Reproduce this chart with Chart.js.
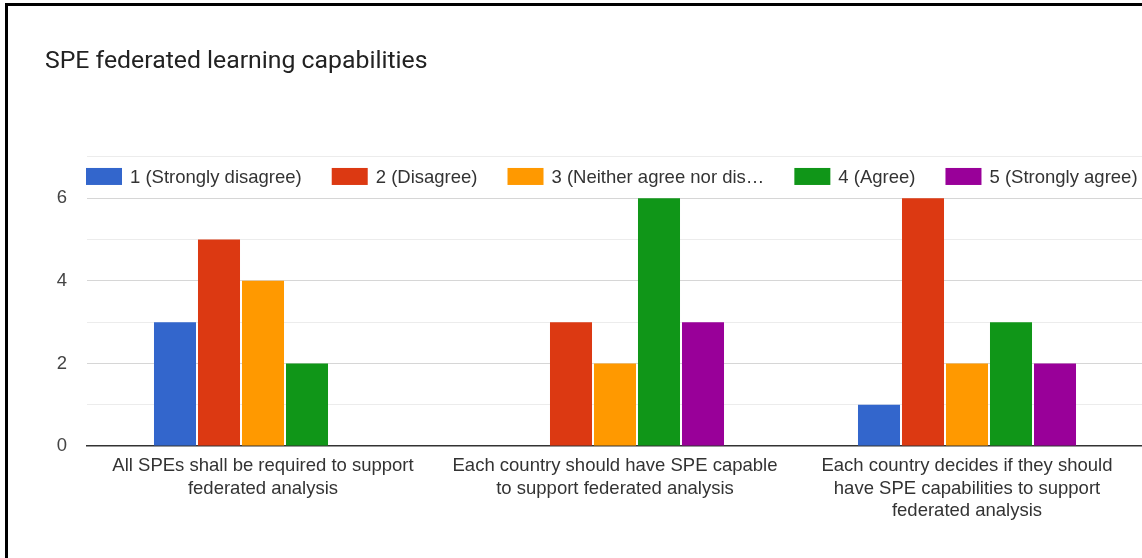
<!DOCTYPE html>
<html>
<head>
<meta charset="utf-8">
<title>SPE federated learning capabilities</title>
<script src="https://cdn.jsdelivr.net/npm/chart.js@4.4.1/dist/chart.umd.min.js"></script>
<style>
  html, body { margin: 0; padding: 0; background: #fff; overflow: hidden; }
  body { width: 1142px; height: 558px; position: relative; }
  /* black frame around the card, right/bottom edges run off the page */
  .frame {
    position: absolute; left: 5px; top: 3px;
    width: 1200px; height: 600px;
    border: 3px solid #000;
  }
  .chart-box {
    position: absolute; left: 0; top: 0;
    width: 1200px; height: 558px;
  }
</style>
</head>
<body>
<div class="frame"></div>
<div class="chart-box"><canvas id="graficoSPE"></canvas></div>

<script>
// datos de la encuesta
const categorias = [
    ["All SPEs shall be required to support", "federated analysis"],
    ["Each country should have SPE capable", "to support federated analysis"],
    ["Each country decides if they should", "have SPE capabilities to support", "federated analysis"]
];
const series = ["1 (Strongly disagree)", "2 (Disagree)", "3 (Neither agree nor disagree)", "4 (Agree)", "5 (Strongly agree)"];
const colores = ["#3366cc", "#dc3912", "#ff9900", "#109618", "#990099"];

const muyEnDesacuerdo = [3, 0, 1];
const enDesacuerdo    = [5, 3, 6];
const neutral         = [4, 2, 2];
const deAcuerdo       = [2, 6, 3];
const muyDeAcuerdo    = [0, 3, 2];

const valoresEjeY = [0, 2, 4, 6];

const FUENTE = '"Liberation Sans", Arial, sans-serif';

// recorta el texto con "…" si no cabe
function recortar(ctx, texto, maxAncho) {
    if (ctx.measureText(texto).width <= maxAncho) return texto;
    let t = texto;
    while (t.length > 1 && ctx.measureText(t + "…").width > maxAncho) {
        t = t.slice(0, -1);
    }
    return t.trimEnd() + "…";
}

// leyenda en una sola fila dentro del área del gráfico (entre 6 y 7)
const leyendaSuperior = {
    id: "leyendaSuperior",
    afterDraw(chart) {
        const { ctx, chartArea } = chart;
        const y = chartArea.top + 20;
        let x = chartArea.left - 1;
        ctx.save();
        ctx.font = "18.5px " + FUENTE;
        ctx.textBaseline = "middle";
        ctx.textAlign = "left";
        chart.data.datasets.forEach(ds => {
            ctx.fillStyle = ds.backgroundColor;
            ctx.fillRect(x, y - 9, 36, 17);
            const texto = recortar(ctx, ds.label, 215);
            ctx.fillStyle = "#333";
            ctx.fillText(texto, x + 44, y + 1);
            x += 44 + ctx.measureText(texto).width + 30;
        });
        ctx.restore();
    }
};

let chartSPE = null;

document.addEventListener("DOMContentLoaded", () => {
    const ctx = document.getElementById("graficoSPE");
    if (!ctx) return;

    const valores = [muyEnDesacuerdo, enDesacuerdo, neutral, deAcuerdo, muyDeAcuerdo];

    chartSPE = new Chart(ctx, {
        type: "bar",
        data: {
            labels: categorias,
            datasets: series.map((nombre, i) => ({
                label: nombre,
                data: valores[i],
                backgroundColor: colores[i],
                borderWidth: 0,
                categoryPercentage: 0.625,
                barPercentage: 0.955
            }))
        },
        options: {
            responsive: true,
            maintainAspectRatio: false,
            animation: false,
            layout: {
                padding: { left: 45, right: 57, top: 0, bottom: 0 }
            },
            plugins: {
                legend: { display: false },
                tooltip: { enabled: false },
                title: {
                    display: true,
                    text: "SPE federated learning capabilities",
                    align: "start",
                    color: "#222",
                    font: { family: "Roboto, " + FUENTE, size: 24.8, weight: "normal", lineHeight: 1.2 },
                    padding: { top: 47, bottom: 80.2 }
                }
            },
            scales: {
                x: {
                    grid: { display: false },
                    border: { display: true, color: "#333", width: 1.5 },
                    ticks: {
                        color: "#333",
                        font: { family: FUENTE, size: 18.5, lineHeight: 1.24 },
                        padding: 0,
                        maxRotation: 0,
                        autoSkip: false
                    },
                    afterFit: scale => { scale.height = 112; }
                },
                y: {
                    min: 0,
                    max: 7,
                    border: { display: false },
                    grid: {
                        drawTicks: false,
                        lineWidth: 1,
                        color: c => {
                            const v = c.tick.value;
                            if (v === 0) return "rgba(0,0,0,0)";
                            return v % 2 === 0 ? "#d6d6d6" : "#ececec";
                        }
                    },
                    ticks: {
                        stepSize: 1,
                        color: "#444",
                        padding: 20,
                        font: { family: FUENTE, size: 18.5 },
                        callback: v => valoresEjeY.includes(v) ? v : ""
                    },
                    afterFit: scale => { scale.width = 42; }
                }
            }
        },
        plugins: [leyendaSuperior]
    });
});
</script>
</body>
</html>
